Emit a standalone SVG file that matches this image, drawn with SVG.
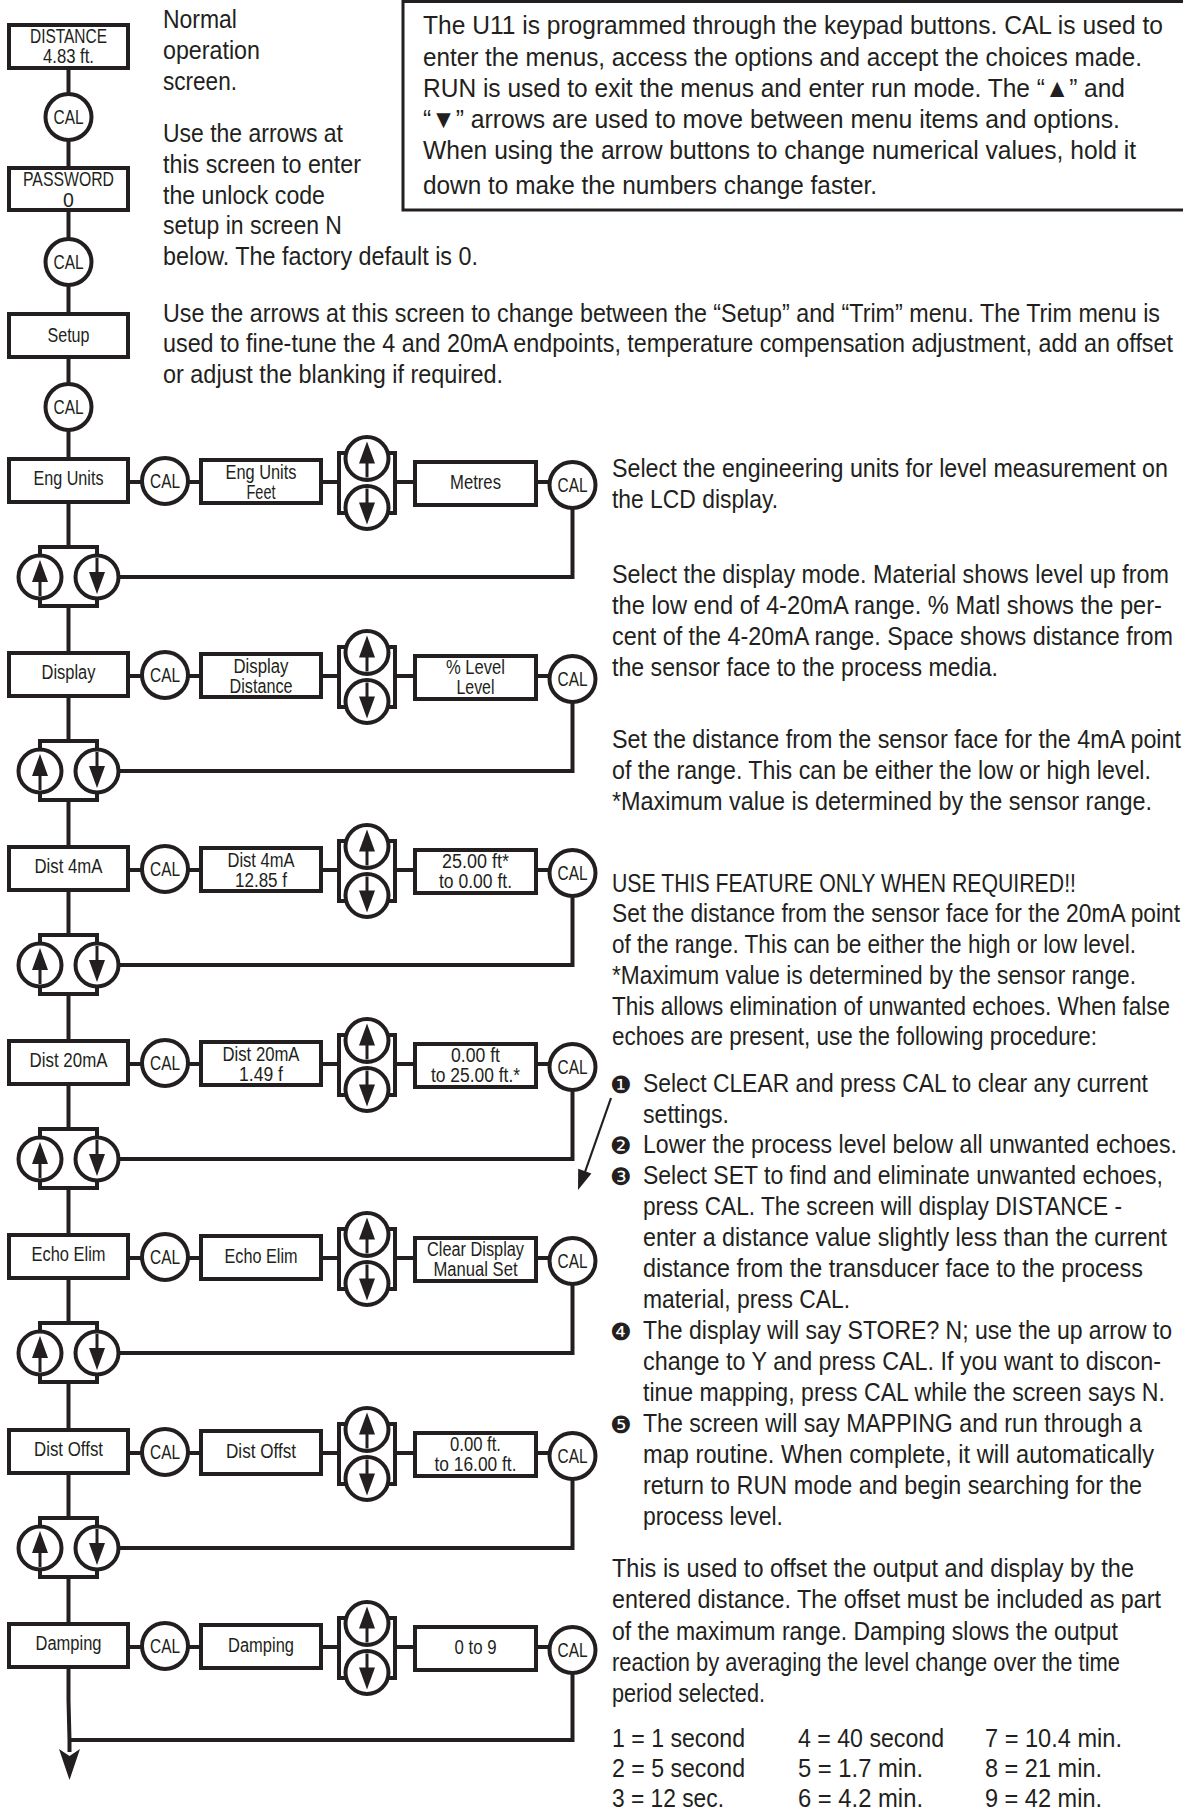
<svg xmlns="http://www.w3.org/2000/svg" xmlns:xlink="http://www.w3.org/1999/xlink" width="1183" height="1812" viewBox="0 0 1183 1812">
<style>
.s{fill:none;stroke:#231f20;stroke-width:4}
.b{fill:#fff;stroke:#231f20;stroke-width:4}
.t{font-family:'Liberation Sans','DejaVu Sans',sans-serif;font-size:22px;fill:#231f20}
.l{font-family:'Liberation Sans','DejaVu Sans',sans-serif;font-size:19.5px;fill:#231f20;text-anchor:middle}
.k{font-family:'DejaVu Sans',sans-serif;font-size:24px;fill:#231f20}
</style>
<defs>
<g id="up"><circle class="b" r="21.5"/><polygon points="0,-17 8,5 -8,5" fill="#231f20"/><rect x="-1.5" y="2" width="3" height="17" fill="#231f20"/></g>
<g id="dn"><circle class="b" r="21.5"/><polygon points="0,17 8,-5 -8,-5" fill="#231f20"/><rect x="-1.5" y="-19" width="3" height="17" fill="#231f20"/></g>
</defs>
<rect width="1183" height="1812" fill="#fff"/>

<g id="connectors">
<path class="s" d="M68.5,68 V1700 L69.5,1740 V1752"/>
<path class="s" d="M128,482 H548 M572.5,508 V577 H97"/>
<path class="s" d="M128,676 H548 M572.5,702 V771 H97"/>
<path class="s" d="M128,870 H548 M572.5,896 V965 H97"/>
<path class="s" d="M128,1064 H548 M572.5,1090 V1159 H97"/>
<path class="s" d="M128,1258 H548 M572.5,1284 V1353 H97"/>
<path class="s" d="M128,1453 H548 M572.5,1479 V1548 H97"/>
<path class="s" d="M128,1647 H548 M572.5,1673 V1740 H69"/>
<polygon points="59,1749 69.5,1756 80,1749 69.5,1780" fill="#231f20"/>
<line x1="611" y1="1098" x2="585" y2="1172" stroke="#231f20" stroke-width="2.2"/>
<polygon points="578,1190 591.4,1173.6 578.2,1168.8" fill="#231f20"/>
</g>

<g id="textbox">
<rect x="403" y="1.5" width="800" height="208.5" fill="none" stroke="#231f20" stroke-width="3"/>
<g transform="scale(1,1.181818)">
<text class="t" x="423" y="28.769" textLength="740" lengthAdjust="spacingAndGlyphs">The U11 is programmed through the keypad buttons. CAL is used to</text>
<text class="t" x="423" y="55.846" textLength="719" lengthAdjust="spacingAndGlyphs">enter the menus, access the options and accept the choices made.</text>
<text class="t" x="423" y="82.077" textLength="702" lengthAdjust="spacingAndGlyphs">RUN is used to exit the menus and enter run mode. The “▲” and</text>
<text class="t" x="423" y="108.308" textLength="697" lengthAdjust="spacingAndGlyphs">“▼” arrows are used to move between menu items and options.</text>
<text class="t" x="423" y="134.538" textLength="713" lengthAdjust="spacingAndGlyphs">When using the arrow buttons to change numerical values, hold it</text>
<text class="t" x="423" y="164.154" textLength="454" lengthAdjust="spacingAndGlyphs">down to make the numbers change faster.</text>
</g>
</g>

<g id="notes-left" transform="scale(1,1.181818)">
<text class="t" x="163" y="23.692" textLength="74" lengthAdjust="spacingAndGlyphs">Normal</text>
<text class="t" x="163" y="49.923" textLength="97" lengthAdjust="spacingAndGlyphs">operation</text>
<text class="t" x="163" y="76.154" textLength="74" lengthAdjust="spacingAndGlyphs">screen.</text>
<text class="t" x="163" y="120.154" textLength="180" lengthAdjust="spacingAndGlyphs">Use the arrows at</text>
<text class="t" x="163" y="146.385" textLength="198" lengthAdjust="spacingAndGlyphs">this screen to enter</text>
<text class="t" x="163" y="172.615" textLength="162" lengthAdjust="spacingAndGlyphs">the unlock code</text>
<text class="t" x="163" y="198" textLength="179" lengthAdjust="spacingAndGlyphs">setup in screen N</text>
<text class="t" x="163" y="224.231" textLength="315" lengthAdjust="spacingAndGlyphs">below. The factory default is 0.</text>
<text class="t" x="163" y="272.462" textLength="997" lengthAdjust="spacingAndGlyphs">Use the arrows at this screen to change between the “Setup” and “Trim” menu. The Trim menu is</text>
<text class="t" x="163" y="297.846" textLength="1010" lengthAdjust="spacingAndGlyphs">used to fine-tune the 4 and 20mA endpoints, temperature compensation adjustment, add an offset</text>
<text class="t" x="163" y="324.077" textLength="340" lengthAdjust="spacingAndGlyphs">or adjust the blanking if required.</text>
</g>

<g id="notes-right">
<g transform="scale(1,1.181818)">
<text class="t" x="612" y="403.615" textLength="556" lengthAdjust="spacingAndGlyphs">Select the engineering units for level measurement on</text>
<text class="t" x="612" y="429.846" textLength="166" lengthAdjust="spacingAndGlyphs">the LCD display.</text>
<text class="t" x="612" y="493.308" textLength="557" lengthAdjust="spacingAndGlyphs">Select the display mode. Material shows level up from</text>
<text class="t" x="612" y="519.538" textLength="550" lengthAdjust="spacingAndGlyphs">the low end of 4-20mA range. % Matl shows the per-</text>
<text class="t" x="612" y="545.769" textLength="561" lengthAdjust="spacingAndGlyphs">cent of the 4-20mA range. Space shows distance from</text>
<text class="t" x="612" y="572" textLength="386" lengthAdjust="spacingAndGlyphs">the sensor face to the process media.</text>
<text class="t" x="612" y="632.923" textLength="569" lengthAdjust="spacingAndGlyphs">Set the distance from the sensor face for the 4mA point</text>
<text class="t" x="612" y="659.154" textLength="539" lengthAdjust="spacingAndGlyphs">of the range. This can be either the low or high level.</text>
<text class="t" x="612" y="685.385" textLength="540" lengthAdjust="spacingAndGlyphs">*Maximum value is determined by the sensor range.</text>
<text class="t" x="612" y="754.769" textLength="464" lengthAdjust="spacingAndGlyphs">USE THIS FEATURE ONLY WHEN REQUIRED!!</text>
<text class="t" x="612" y="780.154" textLength="568" lengthAdjust="spacingAndGlyphs">Set the distance from the sensor face for the 20mA point</text>
<text class="t" x="612" y="806.385" textLength="524" lengthAdjust="spacingAndGlyphs">of the range. This can be either the high or low level.</text>
<text class="t" x="612" y="832.615" textLength="524" lengthAdjust="spacingAndGlyphs">*Maximum value is determined by the sensor range.</text>
<text class="t" x="612" y="858.846" textLength="558" lengthAdjust="spacingAndGlyphs">This allows elimination of unwanted echoes. When false</text>
<text class="t" x="612" y="884.231" textLength="485" lengthAdjust="spacingAndGlyphs">echoes are present, use the following procedure:</text>
<text class="t" x="643" y="924" textLength="505" lengthAdjust="spacingAndGlyphs">Select CLEAR and press CAL to clear any current</text>
<text class="t" x="643" y="950.231" textLength="86" lengthAdjust="spacingAndGlyphs">settings.</text>
<text class="t" x="643" y="975.615" textLength="534" lengthAdjust="spacingAndGlyphs">Lower the process level below all unwanted echoes.</text>
<text class="t" x="643" y="1001.846" textLength="520" lengthAdjust="spacingAndGlyphs">Select SET to find and eliminate unwanted echoes,</text>
<text class="t" x="643" y="1028.077" textLength="479" lengthAdjust="spacingAndGlyphs">press CAL. The screen will display DISTANCE -</text>
<text class="t" x="643" y="1054.308" textLength="524" lengthAdjust="spacingAndGlyphs">enter a distance value slightly less than the current</text>
<text class="t" x="643" y="1080.538" textLength="500" lengthAdjust="spacingAndGlyphs">distance from the transducer face to the process</text>
<text class="t" x="643" y="1106.769" textLength="207" lengthAdjust="spacingAndGlyphs">material, press CAL.</text>
<text class="t" x="643" y="1133" textLength="529" lengthAdjust="spacingAndGlyphs">The display will say STORE? N; use the up arrow to</text>
<text class="t" x="643" y="1159.231" textLength="518" lengthAdjust="spacingAndGlyphs">change to Y and press CAL. If you want to discon-</text>
<text class="t" x="643" y="1185.462" textLength="522" lengthAdjust="spacingAndGlyphs">tinue mapping, press CAL while the screen says N.</text>
<text class="t" x="643" y="1211.692" textLength="499" lengthAdjust="spacingAndGlyphs">The screen will say MAPPING and run through a</text>
<text class="t" x="643" y="1237.923" textLength="511" lengthAdjust="spacingAndGlyphs">map routine. When complete, it will automatically</text>
<text class="t" x="643" y="1264.154" textLength="499" lengthAdjust="spacingAndGlyphs">return to RUN mode and begin searching for the</text>
<text class="t" x="643" y="1290.385" textLength="140" lengthAdjust="spacingAndGlyphs">process level.</text>
<text class="t" x="612" y="1334.385" textLength="522" lengthAdjust="spacingAndGlyphs">This is used to offset the output and display by the</text>
<text class="t" x="612" y="1360.615" textLength="549" lengthAdjust="spacingAndGlyphs">entered distance. The offset must be included as part</text>
<text class="t" x="612" y="1387.692" textLength="506" lengthAdjust="spacingAndGlyphs">of the maximum range. Damping slows the output</text>
<text class="t" x="612" y="1413.923" textLength="508" lengthAdjust="spacingAndGlyphs">reaction by averaging the level change over the time</text>
<text class="t" x="612" y="1440.154" textLength="153" lengthAdjust="spacingAndGlyphs">period selected.</text>
<text class="t" x="612" y="1478.231" textLength="133" lengthAdjust="spacingAndGlyphs">1 = 1 second</text>
<text class="t" x="612" y="1503.615" textLength="133" lengthAdjust="spacingAndGlyphs">2 = 5 second</text>
<text class="t" x="612" y="1529" textLength="112" lengthAdjust="spacingAndGlyphs">3 = 12 sec.</text>
<text class="t" x="798" y="1478.231" textLength="146" lengthAdjust="spacingAndGlyphs">4 = 40 second</text>
<text class="t" x="798" y="1503.615" textLength="125" lengthAdjust="spacingAndGlyphs">5 = 1.7 min.</text>
<text class="t" x="798" y="1529" textLength="125" lengthAdjust="spacingAndGlyphs">6 = 4.2 min.</text>
<text class="t" x="985" y="1478.231" textLength="137" lengthAdjust="spacingAndGlyphs">7 = 10.4 min.</text>
<text class="t" x="985" y="1503.615" textLength="117" lengthAdjust="spacingAndGlyphs">8 = 21 min.</text>
<text class="t" x="985" y="1529" textLength="117" lengthAdjust="spacingAndGlyphs">9 = 42 min.</text>
</g>
<text class="k" x="610" y="1093">❶</text>
<text class="k" x="610" y="1154">❷</text>
<text class="k" x="610" y="1185">❸</text>
<text class="k" x="610" y="1340">❹</text>
<text class="k" x="610" y="1433">❺</text>
</g>

<g id="distance"><rect class="b" x="9" y="25" width="119" height="43"/>
<text class="l" x="68.5" y="43" textLength="77" lengthAdjust="spacingAndGlyphs">DISTANCE</text>
<text class="l" x="68.5" y="63" textLength="51" lengthAdjust="spacingAndGlyphs">4.83 ft.</text></g>
<g id="cal-a"><circle class="b" cx="68.5" cy="117" r="23"/><text class="l" x="68.5" y="124" textLength="30" lengthAdjust="spacingAndGlyphs">CAL</text></g>
<g id="password"><rect class="b" x="9" y="168" width="119" height="42"/>
<text class="l" x="68.5" y="186" textLength="91" lengthAdjust="spacingAndGlyphs">PASSWORD</text>
<text class="l" x="68.5" y="207">0</text></g>
<g id="cal-b"><circle class="b" cx="68.5" cy="262" r="23"/><text class="l" x="68.5" y="269" textLength="30" lengthAdjust="spacingAndGlyphs">CAL</text></g>
<g id="setup"><rect class="b" x="9" y="314" width="119" height="43"/>
<text class="l" x="68.5" y="342" textLength="42" lengthAdjust="spacingAndGlyphs">Setup</text></g>
<g id="cal-c"><circle class="b" cx="68.5" cy="407" r="23"/><text class="l" x="68.5" y="414" textLength="30" lengthAdjust="spacingAndGlyphs">CAL</text></g>

<!-- Row 1 Eng Units Y=480 -->
<g id="eng-units"><rect class="b" x="9" y="459" width="119" height="43"/><text class="l" x="68.5" y="485" textLength="70" lengthAdjust="spacingAndGlyphs">Eng Units</text></g>
<g id="eng-cal1"><circle class="b" cx="165" cy="481" r="23"/><text class="l" x="165" y="488" textLength="30" lengthAdjust="spacingAndGlyphs">CAL</text></g>
<g id="eng-opt"><rect class="b" x="201" y="460" width="120" height="43"/><text class="l" x="261" y="479" textLength="71" lengthAdjust="spacingAndGlyphs">Eng Units</text><text class="l" x="261" y="499" textLength="29" lengthAdjust="spacingAndGlyphs">Feet</text></g>
<g id="eng-arrows"><rect class="b" x="339" y="453" width="56" height="60"/><use href="#up" x="367" y="458.5"/><use href="#dn" x="367" y="507.5"/></g>
<g id="eng-val"><rect class="b" x="415" y="462" width="121" height="43"/><text class="l" x="475.5" y="489" textLength="51" lengthAdjust="spacingAndGlyphs">Metres</text></g>
<g id="eng-cal2"><circle class="b" cx="572.5" cy="485" r="23"/><text class="l" x="572.5" y="492" textLength="30" lengthAdjust="spacingAndGlyphs">CAL</text></g>
<g id="eng-nav"><rect class="b" x="40" y="547" width="57" height="59"/><use href="#up" x="40" y="577"/><use href="#dn" x="97" y="577"/></g>

<!-- Row 2 Display Y=674 -->
<g id="display"><rect class="b" x="9" y="653" width="119" height="43"/><text class="l" x="68.5" y="679" textLength="54" lengthAdjust="spacingAndGlyphs">Display</text></g>
<g id="display-cal1"><circle class="b" cx="165" cy="675" r="23"/><text class="l" x="165" y="682" textLength="30" lengthAdjust="spacingAndGlyphs">CAL</text></g>
<g id="display-opt"><rect class="b" x="201" y="654" width="120" height="43"/><text class="l" x="261" y="673" textLength="55" lengthAdjust="spacingAndGlyphs">Display</text><text class="l" x="261" y="693" textLength="63" lengthAdjust="spacingAndGlyphs">Distance</text></g>
<g id="display-arrows"><rect class="b" x="339" y="647" width="56" height="60"/><use href="#up" x="367" y="652.5"/><use href="#dn" x="367" y="701.5"/></g>
<g id="display-val"><rect class="b" x="415" y="656" width="121" height="43"/><text class="l" x="475.5" y="674" textLength="59" lengthAdjust="spacingAndGlyphs">% Level</text><text class="l" x="475.5" y="694" textLength="38" lengthAdjust="spacingAndGlyphs">Level</text></g>
<g id="display-cal2"><circle class="b" cx="572.5" cy="679" r="23"/><text class="l" x="572.5" y="686" textLength="30" lengthAdjust="spacingAndGlyphs">CAL</text></g>
<g id="display-nav"><rect class="b" x="40" y="741" width="57" height="59"/><use href="#up" x="40" y="771"/><use href="#dn" x="97" y="771"/></g>

<!-- Row 3 Dist 4mA Y=868 -->
<g id="dist4"><rect class="b" x="9" y="847" width="119" height="43"/><text class="l" x="68.5" y="873" textLength="68" lengthAdjust="spacingAndGlyphs">Dist 4mA</text></g>
<g id="dist4-cal1"><circle class="b" cx="165" cy="869" r="23"/><text class="l" x="165" y="876" textLength="30" lengthAdjust="spacingAndGlyphs">CAL</text></g>
<g id="dist4-opt"><rect class="b" x="201" y="848" width="120" height="43"/><text class="l" x="261" y="867" textLength="67" lengthAdjust="spacingAndGlyphs">Dist 4mA</text><text class="l" x="261" y="887" textLength="52" lengthAdjust="spacingAndGlyphs">12.85 f</text></g>
<g id="dist4-arrows"><rect class="b" x="339" y="841" width="56" height="60"/><use href="#up" x="367" y="846.5"/><use href="#dn" x="367" y="895.5"/></g>
<g id="dist4-val"><rect class="b" x="415" y="850" width="121" height="43"/><text class="l" x="475.5" y="868" textLength="67" lengthAdjust="spacingAndGlyphs">25.00 ft*</text><text class="l" x="475.5" y="888" textLength="73" lengthAdjust="spacingAndGlyphs">to 0.00 ft.</text></g>
<g id="dist4-cal2"><circle class="b" cx="572.5" cy="873" r="23"/><text class="l" x="572.5" y="880" textLength="30" lengthAdjust="spacingAndGlyphs">CAL</text></g>
<g id="dist4-nav"><rect class="b" x="40" y="935" width="57" height="59"/><use href="#up" x="40" y="965"/><use href="#dn" x="97" y="965"/></g>

<!-- Row 4 Dist 20mA Y=1062 -->
<g id="dist20"><rect class="b" x="9" y="1041" width="119" height="43"/><text class="l" x="68.5" y="1067" textLength="78" lengthAdjust="spacingAndGlyphs">Dist 20mA</text></g>
<g id="dist20-cal1"><circle class="b" cx="165" cy="1063" r="23"/><text class="l" x="165" y="1070" textLength="30" lengthAdjust="spacingAndGlyphs">CAL</text></g>
<g id="dist20-opt"><rect class="b" x="201" y="1042" width="120" height="43"/><text class="l" x="261" y="1061" textLength="77" lengthAdjust="spacingAndGlyphs">Dist 20mA</text><text class="l" x="261" y="1081" textLength="44" lengthAdjust="spacingAndGlyphs">1.49 f</text></g>
<g id="dist20-arrows"><rect class="b" x="339" y="1035" width="56" height="60"/><use href="#up" x="367" y="1040.5"/><use href="#dn" x="367" y="1089.5"/></g>
<g id="dist20-val"><rect class="b" x="415" y="1044" width="121" height="43"/><text class="l" x="475.5" y="1062" textLength="49" lengthAdjust="spacingAndGlyphs">0.00 ft</text><text class="l" x="475.5" y="1082" textLength="89" lengthAdjust="spacingAndGlyphs">to 25.00 ft.*</text></g>
<g id="dist20-cal2"><circle class="b" cx="572.5" cy="1067" r="23"/><text class="l" x="572.5" y="1074" textLength="30" lengthAdjust="spacingAndGlyphs">CAL</text></g>
<g id="dist20-nav"><rect class="b" x="40" y="1129" width="57" height="59"/><use href="#up" x="40" y="1159"/><use href="#dn" x="97" y="1159"/></g>

<!-- Row 5 Echo Elim Y=1256 -->
<g id="echo"><rect class="b" x="9" y="1235" width="119" height="43"/><text class="l" x="68.5" y="1261" textLength="74" lengthAdjust="spacingAndGlyphs">Echo Elim</text></g>
<g id="echo-cal1"><circle class="b" cx="165" cy="1257" r="23"/><text class="l" x="165" y="1264" textLength="30" lengthAdjust="spacingAndGlyphs">CAL</text></g>
<g id="echo-opt"><rect class="b" x="201" y="1236" width="120" height="43"/><text class="l" x="261" y="1263" textLength="73" lengthAdjust="spacingAndGlyphs">Echo Elim</text></g>
<g id="echo-arrows"><rect class="b" x="339" y="1229" width="56" height="60"/><use href="#up" x="367" y="1234.5"/><use href="#dn" x="367" y="1283.5"/></g>
<g id="echo-val"><rect class="b" x="415" y="1238" width="121" height="43"/><text class="l" x="475.5" y="1256" textLength="97" lengthAdjust="spacingAndGlyphs">Clear Display</text><text class="l" x="475.5" y="1276" textLength="84" lengthAdjust="spacingAndGlyphs">Manual Set</text></g>
<g id="echo-cal2"><circle class="b" cx="572.5" cy="1261" r="23"/><text class="l" x="572.5" y="1268" textLength="30" lengthAdjust="spacingAndGlyphs">CAL</text></g>
<g id="echo-nav"><rect class="b" x="40" y="1323" width="57" height="59"/><use href="#up" x="40" y="1353"/><use href="#dn" x="97" y="1353"/></g>

<!-- Row 6 Dist Offst Y=1451 -->
<g id="offst"><rect class="b" x="9" y="1430" width="119" height="43"/><text class="l" x="68.5" y="1456" textLength="69" lengthAdjust="spacingAndGlyphs">Dist Offst</text></g>
<g id="offst-cal1"><circle class="b" cx="165" cy="1452" r="23"/><text class="l" x="165" y="1459" textLength="30" lengthAdjust="spacingAndGlyphs">CAL</text></g>
<g id="offst-opt"><rect class="b" x="201" y="1431" width="120" height="43"/><text class="l" x="261" y="1458" textLength="70" lengthAdjust="spacingAndGlyphs">Dist Offst</text></g>
<g id="offst-arrows"><rect class="b" x="339" y="1424" width="56" height="60"/><use href="#up" x="367" y="1429.5"/><use href="#dn" x="367" y="1478.5"/></g>
<g id="offst-val"><rect class="b" x="415" y="1433" width="121" height="43"/><text class="l" x="475.5" y="1451" textLength="51" lengthAdjust="spacingAndGlyphs">0.00 ft.</text><text class="l" x="475.5" y="1471" textLength="82" lengthAdjust="spacingAndGlyphs">to 16.00 ft.</text></g>
<g id="offst-cal2"><circle class="b" cx="572.5" cy="1456" r="23"/><text class="l" x="572.5" y="1463" textLength="30" lengthAdjust="spacingAndGlyphs">CAL</text></g>
<g id="offst-nav"><rect class="b" x="40" y="1518" width="57" height="59"/><use href="#up" x="40" y="1548"/><use href="#dn" x="97" y="1548"/></g>

<!-- Row 7 Damping Y=1645 -->
<g id="damping"><rect class="b" x="9" y="1624" width="119" height="43"/><text class="l" x="68.5" y="1650" textLength="66" lengthAdjust="spacingAndGlyphs">Damping</text></g>
<g id="damping-cal1"><circle class="b" cx="165" cy="1646" r="23"/><text class="l" x="165" y="1653" textLength="30" lengthAdjust="spacingAndGlyphs">CAL</text></g>
<g id="damping-opt"><rect class="b" x="201" y="1625" width="120" height="43"/><text class="l" x="261" y="1652" textLength="66" lengthAdjust="spacingAndGlyphs">Damping</text></g>
<g id="damping-arrows"><rect class="b" x="339" y="1618" width="56" height="60"/><use href="#up" x="367" y="1623.5"/><use href="#dn" x="367" y="1672.5"/></g>
<g id="damping-val"><rect class="b" x="415" y="1627" width="121" height="43"/><text class="l" x="475.5" y="1654" textLength="42" lengthAdjust="spacingAndGlyphs">0 to 9</text></g>
<g id="damping-cal2"><circle class="b" cx="572.5" cy="1650" r="23"/><text class="l" x="572.5" y="1657" textLength="30" lengthAdjust="spacingAndGlyphs">CAL</text></g>
</svg>
